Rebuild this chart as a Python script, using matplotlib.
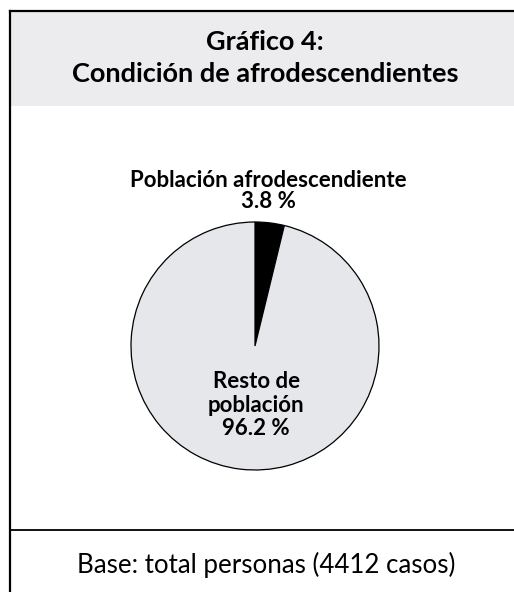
import matplotlib.pyplot as plt
from matplotlib.lines import Line2D
from matplotlib.patches import Rectangle

plt.rcParams['font.family'] = ['Lato', 'DejaVu Sans']

title = "Gráfico 4:\nCondición de afrodescendientes"
footer = "Base: total personas (4412 casos)"
labels = ["Población afrodescendiente\n3.8 %", "Resto de\npoblación\n96.2 %"]
values = [3.8, 96.2]
colors = ["#000000", "#e6e7eb"]

W, H = 514, 592
fig = plt.figure(figsize=(W / 100, H / 100), dpi=100)


def fx(px):
    return px / W


def fy(py):
    return 1 - py / H


# header band and frame
fig.add_artist(Rectangle((fx(9), fy(106)), fx(W), (106 - 11) / H,
                         transform=fig.transFigure, facecolor="#ececee", edgecolor="none"))
fig.add_artist(Line2D([fx(9.5), fx(9.5)], [fy(11), fy(H)], transform=fig.transFigure,
                      color="black", lw=1.6))
fig.add_artist(Line2D([fx(9.5), fx(W)], [fy(11), fy(11)], transform=fig.transFigure,
                      color="black", lw=1.6))
fig.add_artist(Line2D([fx(9.5), fx(W)], [fy(530), fy(530)], transform=fig.transFigure,
                      color="black", lw=1.3))

fig.text(fx(265), fy(58), title, ha="center", va="center", fontsize=19.5,
         fontweight="bold", linespacing=1.36)
fig.text(fx(266), fy(565), footer, ha="center", va="center", fontsize=18.6)

# pie
cx, cy, r = 255, 346, 124
ax = fig.add_axes([fx(cx - r), fy(cy + r), 2 * r / W, 2 * r / H])
ax.pie(values, colors=colors, startangle=90, counterclock=False,
       wedgeprops=dict(edgecolor="black", linewidth=0.9))
ax.set_xlim(-1, 1)
ax.set_ylim(-1, 1)
ax.set_aspect("equal")
ax.axis("off")

ax.text(0.11, 1.25, labels[0], ha="center", va="center", fontsize=16,
        fontweight="bold", linespacing=0.95)
ax.text(0.01, -0.476, labels[1], ha="center", va="center", fontsize=16,
        fontweight="bold", linespacing=1.14)

fig.savefig("out.png", dpi=100)
